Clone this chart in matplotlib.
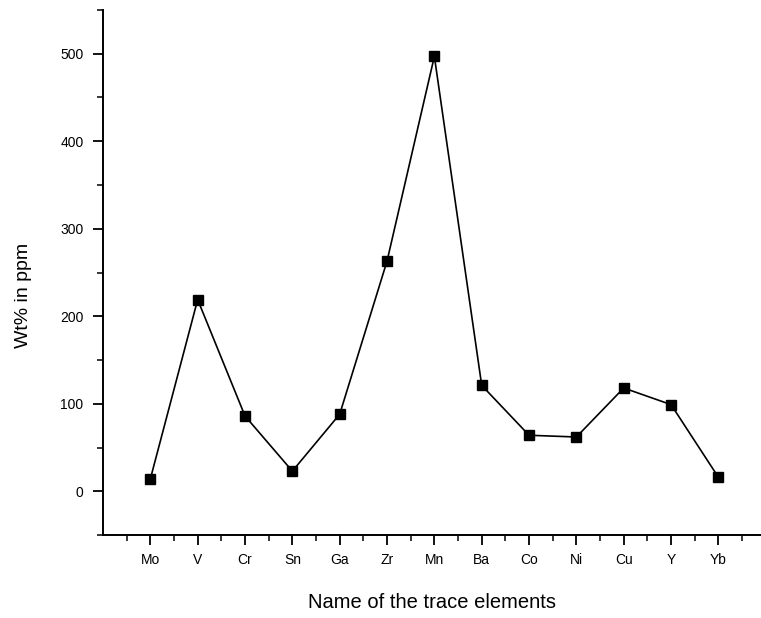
import matplotlib
matplotlib.use("Agg")
import matplotlib.pyplot as plt
from matplotlib.ticker import MultipleLocator, FixedLocator

elements = ["Mo", "V", "Cr", "Sn", "Ga", "Zr", "Mn", "Ba", "Co", "Ni", "Cu", "Y", "Yb"]
values = [14, 219, 86, 23, 88, 263, 497, 121, 64, 62, 118, 99, 16]

plt.rcParams['font.family'] = ['Liberation Sans', 'DejaVu Sans']

fig = plt.figure(figsize=(7.61, 6.18), dpi=100)
W, H = 761, 618
L, B, T = 103, 535, 10
ax = fig.add_axes([L/W, 1 - B/H, 1 - L/W, (B - T)/H])

x = list(range(1, len(elements) + 1))
ax.plot(x, values, color='black', linewidth=1.2, marker='s', markersize=7.5,
        markerfacecolor='black', markeredgecolor='black')

ax.set_xlim(0, 13.9)
ax.set_ylim(-50, 550)

ax.xaxis.set_major_locator(FixedLocator(x))
ax.set_xticklabels(elements)
ax.xaxis.set_minor_locator(FixedLocator([i + 0.5 for i in range(0, 14)]))
ax.yaxis.set_major_locator(MultipleLocator(100))
ax.yaxis.set_minor_locator(MultipleLocator(50))

for s in ['top', 'right']:
    ax.spines[s].set_visible(False)
for s in ['left', 'bottom']:
    ax.spines[s].set_linewidth(1.4)

ax.tick_params(which='major', direction='out', length=7, width=1.3, labelsize=10)
ax.tick_params(axis='y', which='major', pad=7)
ax.tick_params(axis='x', which='major', pad=6)
ax.tick_params(which='minor', direction='out', length=4, width=1.1)

ax.set_ylabel("Wt% in ppm", fontsize=14)
ax.yaxis.set_label_coords(-(L - 24) / (W - L), (B - 295) / (B - T))
ax.set_xlabel("Name of the trace elements", fontsize=14.5)
ax.xaxis.set_label_coords((432 - L) / (W - L), -(602 - B) / (B - T))
ax.xaxis.label.set_verticalalignment('center')
ax.yaxis.label.set_verticalalignment('center')

fig.savefig("out.png", dpi=100)
